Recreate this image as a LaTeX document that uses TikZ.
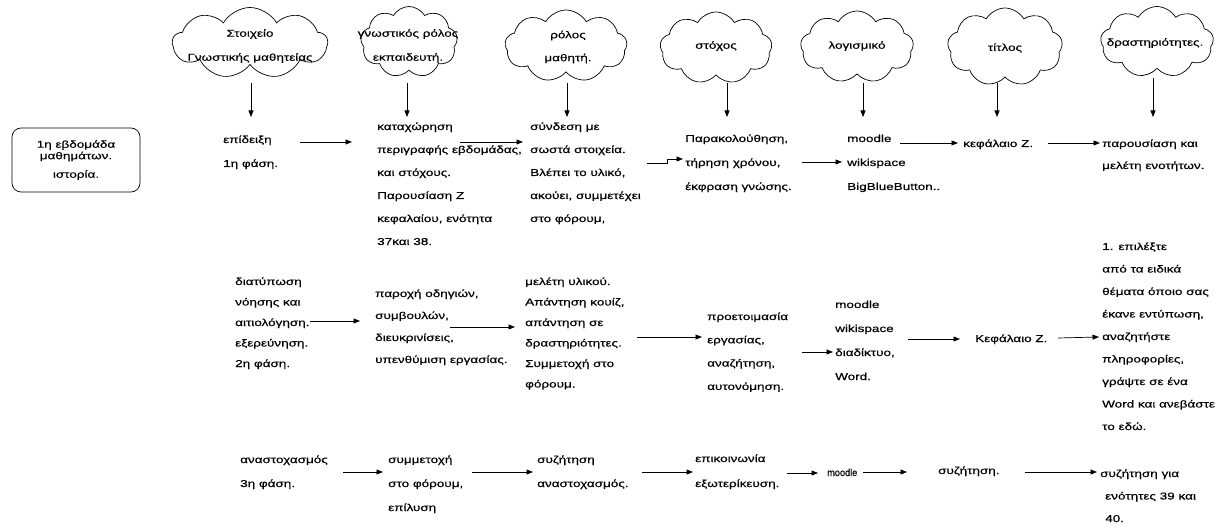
\documentclass[tikz,border=0pt]{standalone}
\usepackage{fontspec}
\setmainfont{Liberation Sans}[FakeStretch=1.35,FakeBold=0.4]
\usetikzlibrary{shapes.symbols,arrows.meta}

% a left-aligned block of lines whose baseline is the first line's baseline
\newcommand\blk[2]{{\fontsize{10}{#1}\selectfont\begin{tabular}[t]{@{}l@{}}#2\end{tabular}}}

\tikzset{
  txt/.style={anchor=base west, inner sep=0pt, font=\fontsize{10}{12}\selectfont},
  arr/.style={-{Triangle[length=6.5pt,width=5pt]}, line width=0.7pt},
  cl/.style={cloud, cloud puffs=9, cloud puff arc=120, cloud ignores aspect,
             draw, line width=0.7pt, inner sep=0pt},
  cltext/.style={align=center, inner sep=0pt},
}

\begin{document}
\begin{tikzpicture}[x=1pt,y=-1pt]
\useasboundingbox (0,0) rectangle (1230,526);

% ---- headings in clouds
\node[cl, minimum width=155pt, minimum height=71pt] (c1) at (250,43) {};
\node[cl, minimum width=97pt,  minimum height=71pt] (c2) at (409,42) {};
\node[cl, minimum width=122pt, minimum height=72pt] (c3) at (566,46) {};
\node[cl, minimum width=112pt, minimum height=72pt] (c4) at (716,48) {};
\node[cl, minimum width=113pt, minimum height=72pt] (c5) at (857,47) {};
\node[cl, minimum width=115pt, minimum height=78pt] (c6) at (1005,47) {};
\node[cl, minimum width=113pt, minimum height=71pt] (c7) at (1157,42) {};

\node[cltext, font=\fontsize{10}{24}\selectfont] (h1) at (250,46) {Στοιχείο\\Γνωστικής μαθητείας};
\node[cltext, font=\fontsize{10}{24}\selectfont] (h2) at (408,46) {γνωστικός ρόλος\\εκπαιδευτή.};
\node[cltext, font=\fontsize{10}{23}\selectfont] (h3) at (568,47) {ρόλος\\μαθητή.};
\node[cltext, font=\fontsize{10}{12}\selectfont] (h4) at (716,46) {στόχος};
\node[cltext, font=\fontsize{10}{12}\selectfont] (h5) at (857,46) {λογισμικό};
\node[cltext, font=\fontsize{10}{12}\selectfont] (h6) at (1005,48) {τίτλος};
\node[cltext, font=\fontsize{10}{12}\selectfont] (h7) at (1155,43) {δραστηριότητες.};

% downward arrows under the clouds
\coordinate (d1s) at (251,83);  \coordinate (d1e) at (251,117);
\coordinate (d2s) at (407,83);  \coordinate (d2e) at (407,117);
\coordinate (d3s) at (567,83);  \coordinate (d3e) at (567,117);
\coordinate (d4s) at (727,83);  \coordinate (d4e) at (727,117);
\coordinate (d5s) at (863,83);  \coordinate (d5e) at (863,117);
\coordinate (d6s) at (997,83);  \coordinate (d6e) at (997,117);
\coordinate (d7s) at (1153,78); \coordinate (d7e) at (1153,117);
\foreach \i in {1,...,7} \draw[arr] (d\i s) -- (d\i e);

% ---- week box
\node[draw, rounded corners=9pt, line width=0.7pt, minimum width=128pt, minimum height=64pt,
      align=center, font=\fontsize{10}{11.5}\selectfont] (week) at (76,160)
      {1η εβδομάδα\\μαθημάτων.\\[7pt]ιστορία.};

% ---- first phase
\node[txt] (epid)   at (223,143) {\blk{24}{επίδειξη\\1η φάση.}};
\node[txt] (kat)    at (377,130) {\blk{23}{καταχώρηση\\περιγραφής εβδομάδας,\\και στόχους.\\Παρουσίαση Ζ\\κεφαλαίου, ενότητα\\37και 38.}};
\node[txt] (synd)   at (530,130) {\blk{23}{σύνδεση με\\σωστά στοιχεία.\\Βλέπει το υλικό,\\ακούει, συμμετέχει\\στο φόρουμ,}};
\node[txt] (parak)  at (685,142) {\blk{24}{Παρακολούθηση,\\τήρηση χρόνου,\\έκφραση γνώσης.}};
\node[txt] (mdl1)   at (847,142) {\blk{24}{moodle\\wikispace\\BigBlueButton..}};
\node[txt] (kef1)   at (963,147) {κεφάλαιο Ζ.};
\node[txt] (parous) at (1102,147) {\blk{22}{παρουσίαση και\\μελέτη ενοτήτων.}};

\coordinate (r1a) at (300,142); \coordinate (r1b) at (352,142);
\coordinate (r1c) at (460,142); \coordinate (r1d) at (523,142);
\coordinate (r1e) at (647,163); \coordinate (r1f) at (683,159);
\coordinate (r1g) at (802,162); \coordinate (r1h) at (842,162);
\coordinate (r1i) at (900,143); \coordinate (r1j) at (958,143);
\coordinate (r1k) at (1048,143);\coordinate (r1l) at (1100,143);
\draw[arr] (r1a) -- (r1b);
\draw[arr] (r1c) -- (r1d);
\draw[arr] (r1e) -- ++(20,0) |- (r1f);
\draw[arr] (r1g) -- (r1h);
\draw[arr] (r1i) -- (r1j);
\draw[arr] (r1k) -- (r1l);

% ---- second phase
\node[txt] (diat)  at (235,285) {\blk{20.5}{διατύπωση\\νόησης και\\αιτιολόγηση.\\εξερεύνηση.\\2η φάση.}};
\node[txt] (parox) at (375,297) {\blk{22}{παροχή οδηγιών,\\συμβουλών,\\διευκρινίσεις,\\υπενθύμιση εργασίας.}};
\node[txt] (melet) at (525,285) {\blk{20.5}{μελέτη υλικού.\\Απάντηση κουίζ,\\απάντηση σε\\δραστηριότητες.\\Συμμετοχή στο\\φόρουμ.}};
\node[txt] (proet) at (707,320) {\blk{23.3}{προετοιμασία\\εργασίας,\\αναζήτηση,\\αυτονόμηση.}};
\node[txt] (mdl2)  at (835,308) {\blk{24}{moodle\\wikispace\\διαδίκτυο,\\Word.}};
\node[txt] (kef2)  at (975,342) {Κεφάλαιο Ζ.};
\node[txt] (epil)  at (1102,250) {\blk{22.5}{1. επιλέξτε\\από τα ειδικά\\θέματα όποιο σας\\έκανε εντύπωση,\\αναζητήστε\\πληροφορίες,\\γράψτε σε ένα\\Word και ανεβάστε\\το εδώ.}};

\coordinate (r2a) at (310,321); \coordinate (r2b) at (360,321);
\coordinate (r2c) at (450,327); \coordinate (r2d) at (515,327);
\coordinate (r2e) at (637,337); \coordinate (r2f) at (702,337);
\coordinate (r2g) at (802,352); \coordinate (r2h) at (833,352);
\coordinate (r2i) at (908,339); \coordinate (r2j) at (960,339);
\coordinate (r2k) at (1058,338);\coordinate (r2l) at (1099,337);
\draw[arr] (r2a) -- (r2b);
\draw[arr] (r2c) -- (r2d);
\draw[arr] (r2e) -- (r2f);
\draw[arr] (r2g) -- (r2h);
\draw[arr] (r2i) -- (r2j);
\draw[arr] (r2k) -- (r2l);

% ---- third phase
\node[txt] (anast) at (240,463) {\blk{24}{αναστοχασμός\\3η φάση.}};
\node[txt] (symm)  at (388,463) {\blk{24}{συμμετοχή\\στο φόρουμ,\\επίλυση}};
\node[txt] (syz)   at (537,463) {\blk{24}{συζήτηση\\αναστοχασμός.}};
\node[txt] (epik)  at (695,462) {\blk{25}{επικοινωνία\\εξωτερίκευση.}};
\node[txt] (mdl3)  at (827,476) {\scalebox{0.68}[1]{moodle}};
\node[txt] (syz2)  at (938,474) {συζήτηση.};
\node[txt] (syz3)  at (1100,477) {\blk{22.5}{συζήτηση για\\\hspace{5pt}ενότητες 39 και\\\hspace{5pt}40.}};

\coordinate (r3a) at (343,472); \coordinate (r3b) at (383,472);
\coordinate (r3c) at (472,472); \coordinate (r3d) at (533,472);
\coordinate (r3e) at (642,472); \coordinate (r3f) at (693,472);
\coordinate (r3g) at (787,473); \coordinate (r3h) at (818,473);
\coordinate (r3i) at (863,472); \coordinate (r3j) at (907,472);
\coordinate (r3k) at (1025,472);\coordinate (r3l) at (1097,472);
\draw[arr] (r3a) -- (r3b);
\draw[arr] (r3c) -- (r3d);
\draw[arr] (r3e) -- (r3f);
\draw[arr] (r3g) -- (r3h);
\draw[arr] (r3i) -- (r3j);
\draw[arr] (r3k) -- (r3l);
\end{tikzpicture}
\end{document}
